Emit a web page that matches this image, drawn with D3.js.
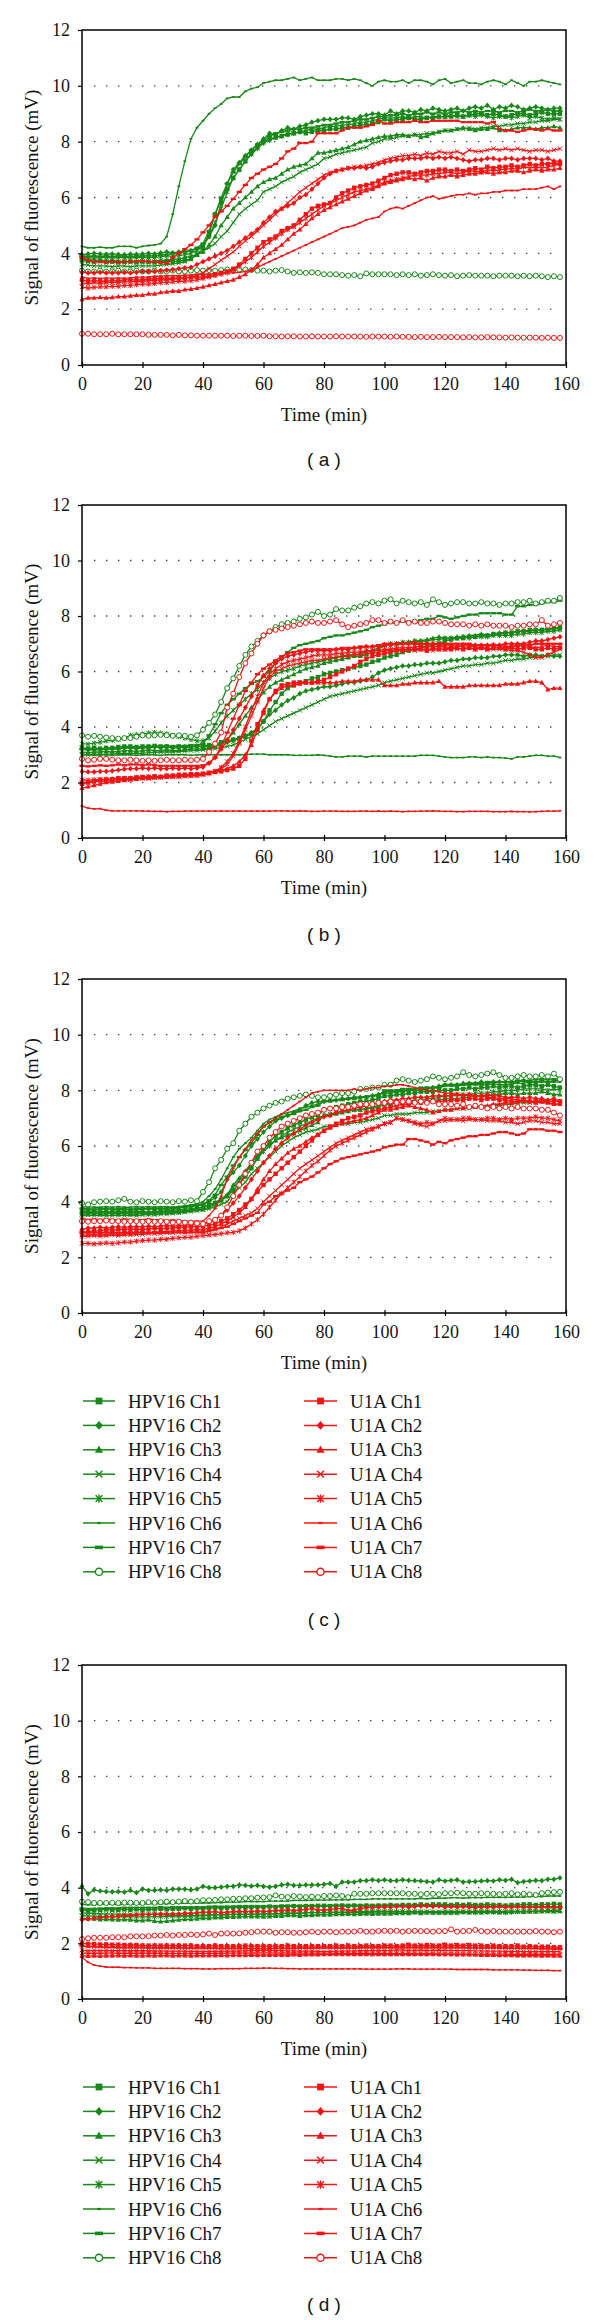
<!DOCTYPE html>
<html><head><meta charset="utf-8">
<script src="https://cdn.jsdelivr.net/npm/d3@7"></script>
<style>body{margin:0;background:#fff} text{font-family:"Liberation Serif","Times New Roman",serif}</style>
</head><body><svg id="chart" width="600" height="2320"></svg>
<script>
// ---------------- DATA ----------------
const timeMin = [0,2,4,6,8,10,12,14,16,18,20,22,24,26,28,30,32,34,36,38,40,42,44,46,48,50,52,54,56,58,60,62,64,66,68,70,72,74,76,78,80,82,84,86,88,90,92,94,96,98,100,102,104,106,108,110,112,114,116,118,120,122,124,126,128,130,132,134,136,138,140,142,144,146,148,150,152,154,156,158];
const xTickValues = [0,20,40,60,80,100,120,140,160];
const yTickValues = [0,2,4,6,8,10,12];
const gridValues = [2,4,6,8,10];
const groupNames = ["HPV16","U1A"];
const channelNames = ["Ch1","Ch2","Ch3","Ch4","Ch5","Ch6","Ch7","Ch8"];
const panelLabels = ["( a )","( b )","( c )","( d )"];

// ---- panel (a) ----
const a_hpv16_ch1 = [3.75,3.72,3.7,3.72,3.7,3.7,3.68,3.7,3.7,3.68, 3.7,3.7,3.68,3.7,3.72,3.7,3.72,3.75,3.8,3.95, 4.2,4.7,5.4,5.9,6.3,6.7,7.0,7.3,7.6,7.8, 8.0,8.1,8.15,8.2,8.25,8.3,8.35,8.3,8.35,8.4, 8.4,8.45,8.45,8.5,8.5,8.55,8.6,8.6,8.65,8.7, 8.8,8.75,8.8,8.8,8.85,8.8,8.8,8.85,8.85,8.9, 8.9,8.9,8.95,8.9,8.95,9.0,9.0,8.95,9.0,8.95, 8.9,8.95,9.0,9.0,8.95,9.0,9.05,9.0,9.0,9.0];
const a_hpv16_ch2 = [3.95,3.98,4.0,3.98,3.97,3.98,3.96,3.95,3.97,3.96, 3.98,4.0,3.98,4.02,4.05,4.02,4.05,4.05,4.1,4.15, 4.3,4.6,5.0,5.8,6.5,7.0,7.25,7.5,7.7,7.9, 8.1,8.3,8.25,8.4,8.5,8.45,8.55,8.6,8.7,8.75, 8.8,8.8,8.8,8.85,8.85,8.8,8.9,8.95,9.0,9.0, 8.95,9.1,9.0,9.1,9.1,9.05,9.15,9.1,9.2,9.15, 9.1,9.15,9.2,9.1,9.2,9.25,9.2,9.3,9.15,9.25, 9.2,9.3,9.25,9.15,9.2,9.25,9.2,9.15,9.2,9.2];
const a_hpv16_ch3 = [3.8,3.78,3.75,3.75,3.72,3.75,3.72,3.7,3.72,3.7, 3.72,3.7,3.72,3.75,3.75,3.78,3.8,3.85,3.9,3.95, 4.05,4.3,4.6,5.0,5.3,5.6,5.8,6.0,6.2,6.4, 6.55,6.65,6.7,6.85,7.0,7.1,7.15,7.2,7.4,7.6, 7.6,7.65,7.7,7.75,7.8,7.9,8.0,8.05,8.1,8.15, 8.2,8.2,8.25,8.25,8.2,8.25,8.15,8.2,8.3,8.35, 8.4,8.4,8.45,8.5,8.45,8.4,8.45,8.45,8.5,8.4, 8.4,8.45,8.5,8.5,8.5,8.45,8.5,8.5,8.55,8.5];
const a_hpv16_ch4 = [3.6,3.58,3.55,3.55,3.55,3.52,3.55,3.55,3.52,3.55, 3.55,3.55,3.55,3.58,3.6,3.62,3.65,3.7,3.8,3.95, 4.1,4.2,4.35,4.6,4.8,5.1,5.4,5.6,5.75,5.9, 6.2,6.3,6.4,6.55,6.65,6.75,6.9,7.0,7.1,7.2, 7.4,7.45,7.55,7.6,7.65,7.7,7.75,7.8,7.95,8.0, 8.1,8.1,8.15,8.2,8.2,8.25,8.25,8.3,8.3,8.35, 8.4,8.4,8.45,8.45,8.5,8.45,8.5,8.5,8.55,8.55, 8.6,8.6,8.65,8.65,8.7,8.7,8.75,8.75,8.8,8.8];
const a_hpv16_ch5 = [3.85,3.85,3.82,3.85,3.85,3.83,3.85,3.85,3.83,3.85, 3.85,3.85,3.85,3.88,3.9,3.9,3.92,3.95,4.0,4.1, 4.25,4.6,5.1,5.6,6.2,6.7,7.0,7.3,7.55,7.75, 7.95,8.05,8.15,8.2,8.3,8.3,8.35,8.4,8.45,8.45, 8.5,8.55,8.55,8.6,8.6,8.65,8.7,8.7,8.75,8.8, 8.85,8.85,8.85,8.9,8.85,8.9,8.9,8.85,8.9,8.9, 8.9,8.95,8.9,8.9,8.95,8.9,8.95,8.9,8.85,8.9, 8.9,8.85,8.9,8.95,8.85,8.9,8.85,8.8,8.85,8.8];
const a_hpv16_ch6 = [4.25,4.2,4.2,4.22,4.2,4.2,4.25,4.25,4.25,4.2, 4.25,4.28,4.3,4.35,4.6,5.4,6.4,7.3,8.1,8.5, 8.75,9.0,9.2,9.35,9.55,9.6,9.6,9.8,9.9,9.95, 10.1,10.15,10.2,10.2,10.25,10.3,10.2,10.25,10.3,10.2, 10.2,10.2,10.25,10.25,10.2,10.25,10.2,10.1,10.0,10.15, 10.2,10.15,10.15,10.2,10.1,10.2,10.2,10.15,10.05,10.2, 10.25,10.1,10.15,10.2,10.1,10.1,10.05,10.15,10.2,10.15, 10.05,10.2,10.1,10.0,10.15,10.15,10.2,10.15,10.1,10.05];
const a_hpv16_ch7 = [3.9,3.88,3.9,3.88,3.9,3.88,3.9,3.9,3.88,3.9, 3.9,3.92,3.9,3.95,3.95,4.0,4.0,4.05,4.1,4.2, 4.35,4.8,5.4,6.0,6.5,6.9,7.2,7.45,7.7,7.9, 8.05,8.2,8.3,8.35,8.4,8.45,8.45,8.5,8.5,8.55, 8.6,8.6,8.65,8.7,8.7,8.75,8.8,8.8,8.85,8.9, 8.9,8.95,8.95,9.0,8.95,9.0,9.0,9.05,9.0,9.05, 9.0,9.05,9.05,9.1,9.05,9.1,9.05,9.1,9.1,9.05, 9.1,9.1,9.05,9.1,9.15,9.1,9.1,9.15,9.1,9.1];
const a_hpv16_ch8 = [3.38,3.35,3.35,3.38,3.35,3.35,3.38,3.35,3.35,3.38, 3.35,3.35,3.38,3.35,3.35,3.38,3.35,3.35,3.38,3.4, 3.38,3.4,3.38,3.4,3.42,3.4,3.4,3.42,3.4,3.38, 3.38,3.35,3.38,3.4,3.35,3.3,3.32,3.3,3.32,3.3, 3.25,3.25,3.25,3.22,3.2,3.22,3.18,3.28,3.25,3.25, 3.25,3.25,3.22,3.25,3.22,3.25,3.2,3.22,3.25,3.22, 3.2,3.22,3.18,3.2,3.22,3.2,3.2,3.2,3.18,3.2, 3.2,3.2,3.18,3.2,3.18,3.2,3.18,3.15,3.18,3.15];
const a_u1a_ch1 = [3.05,3.0,3.02,3.0,3.0,3.02,3.0,3.05,3.05,3.05, 3.05,3.08,3.08,3.1,3.1,3.1,3.12,3.12,3.15,3.15, 3.15,3.2,3.25,3.3,3.35,3.45,3.6,3.8,4.0,4.2, 4.4,4.5,4.6,4.8,4.9,5.0,5.2,5.4,5.6,5.7, 5.75,5.8,6.0,6.15,6.25,6.35,6.4,6.45,6.5,6.6, 6.7,6.8,6.85,6.9,6.9,6.85,6.9,6.95,6.95,7.0, 7.0,6.95,7.0,6.95,7.0,7.05,7.0,7.1,7.05,7.1, 7.1,7.15,7.1,7.15,7.2,7.15,7.2,7.2,7.25,7.2];
const a_u1a_ch2 = [3.32,3.3,3.3,3.32,3.3,3.3,3.3,3.32,3.3,3.32, 3.35,3.35,3.35,3.38,3.4,3.42,3.45,3.48,3.5,3.6, 3.7,3.8,3.9,4.0,4.1,4.25,4.4,4.55,4.7,4.85, 5.1,5.3,5.5,5.6,5.7,5.8,6.0,6.1,6.3,6.5, 6.7,6.85,6.95,7.0,7.05,7.05,7.1,7.05,7.1,7.2, 7.25,7.3,7.35,7.35,7.4,7.4,7.4,7.45,7.4,7.45, 7.4,7.45,7.4,7.35,7.3,7.35,7.35,7.4,7.4,7.35, 7.4,7.4,7.35,7.4,7.4,7.4,7.35,7.4,7.3,7.3];
const a_u1a_ch3 = [2.35,2.4,2.4,2.42,2.4,2.42,2.45,2.45,2.48,2.5, 2.5,2.55,2.55,2.6,2.62,2.65,2.65,2.7,2.72,2.75, 2.8,2.85,2.9,2.95,3.0,3.05,3.15,3.25,3.4,3.6, 3.85,4.0,4.15,4.3,4.5,4.7,4.85,5.05,5.25,5.4, 5.55,5.65,5.75,5.85,5.95,6.05,6.15,6.25,6.3,6.4, 6.5,6.55,6.6,6.65,6.7,6.65,6.7,6.6,6.7,6.75, 6.75,6.8,6.75,6.8,6.85,6.85,6.9,6.9,6.85,6.9, 6.9,6.95,6.95,6.9,6.95,7.0,6.95,7.0,7.0,7.05];
const a_u1a_ch4 = [2.95,2.9,2.95,2.92,2.95,2.95,2.95,2.98,2.98,3.0, 3.0,3.02,3.02,3.05,3.05,3.08,3.1,3.12,3.15,3.2, 3.3,3.45,3.6,3.75,3.9,4.05,4.25,4.45,4.6,4.8, 5.0,5.2,5.4,5.6,5.8,6.0,6.2,6.35,6.5,6.65, 6.8,6.9,6.95,7.0,7.05,7.1,7.1,7.15,7.2,7.25, 7.35,7.4,7.45,7.5,7.5,7.55,7.5,7.6,7.55,7.65, 7.6,7.6,7.65,7.55,7.7,7.65,7.65,7.7,7.75,7.7, 7.75,7.7,7.75,7.7,7.65,7.7,7.7,7.65,7.7,7.75];
const a_u1a_ch5 = [2.8,2.75,2.78,2.8,2.8,2.82,2.82,2.85,2.85,2.88, 2.9,2.9,2.92,2.95,2.95,2.98,3.0,3.0,3.02,3.05, 3.1,3.15,3.2,3.25,3.3,3.4,3.55,3.7,3.85,4.05, 4.25,4.4,4.55,4.7,4.85,4.95,5.1,5.25,5.4,5.55, 5.7,5.8,5.9,6.0,6.1,6.2,6.25,6.3,6.35,6.45, 6.55,6.6,6.65,6.7,6.75,6.8,6.8,6.8,6.85,6.85, 6.9,6.9,6.85,6.9,6.95,6.95,6.9,7.0,6.95,7.0, 7.0,7.05,7.0,7.1,7.05,7.1,7.05,7.1,7.15,7.2];
const a_u1a_ch6 = [3.15,3.1,3.12,3.1,3.12,3.1,3.12,3.1,3.12,3.15, 3.15,3.15,3.18,3.18,3.2,3.2,3.2,3.22,3.22,3.25, 3.25,3.25,3.28,3.3,3.3,3.3,3.32,3.35,3.4,3.5, 3.6,3.7,3.8,3.9,4.0,4.1,4.2,4.3,4.4,4.5, 4.6,4.7,4.8,4.9,4.95,5.0,5.1,5.2,5.25,5.3, 5.5,5.6,5.65,5.6,5.7,5.8,5.9,6.0,6.05,5.95, 6.0,6.05,6.1,6.1,6.15,6.1,6.15,6.15,6.2,6.2, 6.25,6.25,6.25,6.3,6.3,6.3,6.35,6.4,6.3,6.4];
const a_u1a_ch7 = [3.85,3.75,3.7,3.7,3.68,3.7,3.68,3.7,3.7,3.72, 3.72,3.7,3.7,3.68,3.65,3.85,4.0,4.15,4.3,4.5, 4.75,5.0,5.3,5.5,5.7,5.95,6.2,6.45,6.7,6.85, 7.0,7.1,7.2,7.4,7.65,7.75,7.95,7.95,8.0,8.3, 8.3,8.3,8.3,8.4,8.5,8.5,8.5,8.55,8.6,8.75, 8.65,8.65,8.7,8.7,8.7,8.75,8.7,8.7,8.75,8.75, 8.75,8.75,8.75,8.7,8.7,8.7,8.7,8.65,8.7,8.45, 8.4,8.4,8.35,8.4,8.45,8.45,8.4,8.45,8.4,8.4];
const a_u1a_ch8 = [1.12,1.12,1.1,1.1,1.1,1.12,1.1,1.1,1.1,1.1, 1.1,1.08,1.08,1.08,1.08,1.06,1.08,1.06,1.06,1.05, 1.05,1.05,1.05,1.05,1.05,1.04,1.05,1.05,1.04,1.04, 1.05,1.03,1.03,1.02,1.03,1.03,1.02,1.02,1.03,1.02, 1.02,1.02,1.03,1.02,1.02,1.02,1.02,1.01,1.02,1.02, 1.02,1.01,1.02,1.01,1.01,1.0,1.01,1.0,1.0,1.01, 1.0,1.0,1.0,0.99,1.0,0.99,0.99,1.0,0.99,0.99, 0.98,0.99,0.98,0.98,0.98,0.98,0.97,0.98,0.97,0.97];

// ---- panel (b) ----
const b_hpv16_ch1 = [3.25,3.22,3.25,3.22,3.25,3.25,3.28,3.3,3.3,3.28, 3.3,3.3,3.32,3.3,3.3,3.28,3.3,3.28,3.3,3.3, 3.32,3.35,3.4,3.45,3.5,3.55,3.6,3.65,3.75,3.9, 4.2,4.6,4.9,5.2,5.4,5.5,5.6,5.65,5.75,5.8, 5.9,5.95,6.0,6.05,6.1,6.15,6.2,6.25,6.35,6.4, 6.5,6.55,6.6,6.7,6.75,6.8,6.85,6.9,6.95,7.0, 7.1,7.15,7.2,7.2,7.25,7.25,7.3,7.3,7.35,7.35, 7.4,7.4,7.45,7.45,7.5,7.5,7.5,7.55,7.55,7.6];
const b_hpv16_ch2 = [3.2,3.18,3.2,3.2,3.22,3.2,3.22,3.25,3.25,3.22, 3.25,3.25,3.28,3.25,3.28,3.25,3.25,3.28,3.28,3.3, 3.3,3.32,3.35,3.4,3.45,3.5,3.6,3.7,3.8,3.95, 4.2,4.45,4.6,4.8,4.95,5.05,5.2,5.3,5.35,5.4, 5.45,5.45,5.5,5.55,5.6,5.6,5.65,5.7,5.8,5.95, 6.05,6.1,6.15,6.2,6.2,6.25,6.25,6.3,6.3,6.3, 6.35,6.4,6.4,6.45,6.45,6.5,6.5,6.5,6.55,6.55, 6.6,6.6,6.6,6.55,6.6,6.6,6.55,6.6,6.55,6.55];
const b_hpv16_ch3 = [3.1,3.08,3.1,3.1,3.12,3.1,3.12,3.15,3.15,3.12, 3.15,3.18,3.15,3.15,3.18,3.15,3.15,3.18,3.2,3.2, 3.22,3.25,3.3,3.4,3.55,3.8,4.1,4.4,4.7,4.95, 5.25,5.45,5.6,5.7,5.8,5.9,6.0,6.1,6.15,6.2, 6.3,6.35,6.4,6.45,6.5,6.55,6.55,6.6,6.7,6.8, 6.95,7.0,7.0,7.05,7.05,7.1,7.1,7.15,7.2,7.25, 7.2,7.2,7.25,7.25,7.3,7.3,7.35,7.3,7.35,7.4, 7.4,7.4,7.45,7.45,7.45,7.5,7.5,7.5,7.55,7.55];
const b_hpv16_ch4 = [3.0,3.0,3.02,3.0,3.02,3.02,3.05,3.05,3.05,3.05, 3.05,3.08,3.08,3.1,3.1,3.1,3.12,3.12,3.15,3.15, 3.18,3.2,3.22,3.25,3.3,3.35,3.45,3.55,3.65,3.75, 3.9,4.05,4.2,4.3,4.4,4.5,4.6,4.7,4.8,4.9, 5.0,5.1,5.15,5.2,5.25,5.3,5.35,5.4,5.45,5.5, 5.6,5.65,5.7,5.75,5.8,5.85,5.9,5.95,5.95,6.0, 6.05,6.1,6.15,6.2,6.2,6.25,6.25,6.3,6.3,6.35, 6.4,6.4,6.45,6.45,6.5,6.5,6.55,6.55,6.6,6.6];
const b_hpv16_ch5 = [3.4,3.38,3.42,3.45,3.5,3.52,3.55,3.6,3.7,3.72, 3.75,3.78,3.8,3.78,3.75,3.7,3.65,3.6,3.55,3.5, 3.5,3.6,3.85,4.15,4.4,4.6,4.8,5.0,5.2,5.35, 5.6,5.75,5.9,6.0,6.05,6.1,6.2,6.25,6.3,6.35, 6.4,6.45,6.5,6.55,6.6,6.6,6.65,6.7,6.75,6.85, 6.95,7.0,7.0,7.05,7.05,7.1,7.1,7.1,7.15,7.15, 7.2,7.2,7.2,7.25,7.2,7.25,7.25,7.25,7.3,7.3, 7.3,7.3,7.35,7.35,7.4,7.4,7.4,7.45,7.45,7.5];
const b_hpv16_ch6 = [3.0,3.0,2.98,3.0,3.0,2.98,3.0,3.0,3.0,2.98, 3.0,3.0,3.0,2.98,3.0,3.0,3.0,3.0,2.98,3.0, 3.0,3.0,3.0,3.0,3.0,3.0,3.0,3.0,3.02,3.02, 3.02,3.0,3.0,3.0,3.0,2.98,2.98,2.98,2.98,3.0, 2.98,2.95,2.92,2.92,2.95,2.95,2.95,2.92,2.95,2.95, 2.95,2.95,2.95,2.95,2.95,2.95,2.98,2.98,2.98,2.95, 2.92,2.9,2.9,2.9,2.92,2.92,2.9,2.92,2.9,2.9, 2.88,2.85,2.92,2.92,2.95,2.98,2.98,2.95,2.95,2.9];
const b_hpv16_ch7 = [3.2,3.2,3.18,3.2,3.2,3.22,3.22,3.25,3.25,3.25, 3.28,3.3,3.3,3.3,3.32,3.3,3.32,3.32,3.35,3.35, 3.4,3.7,4.1,4.5,4.8,5.0,5.2,5.4,5.55,5.65, 5.8,6.0,6.3,6.5,6.7,6.85,6.95,7.0,7.05,7.1, 7.2,7.25,7.3,7.3,7.35,7.4,7.45,7.5,7.6,7.65, 7.7,7.75,7.75,7.8,7.8,7.8,7.85,7.9,7.9,8.0, 7.95,7.9,7.95,8.0,8.05,8.05,8.1,8.1,8.1,8.1, 8.05,8.05,8.35,8.35,8.4,8.4,8.45,8.5,8.5,8.55];
const b_hpv16_ch8 = [3.7,3.65,3.68,3.65,3.62,3.6,3.58,3.6,3.6,3.65, 3.7,3.68,3.7,3.72,3.7,3.68,3.7,3.68,3.65,3.7, 3.9,4.15,4.45,4.9,5.4,5.75,6.2,6.6,6.9,7.1, 7.3,7.45,7.6,7.7,7.75,7.8,7.9,7.95,8.05,8.15, 8.0,8.05,8.25,8.2,8.2,8.3,8.35,8.45,8.5,8.45, 8.55,8.6,8.45,8.55,8.5,8.45,8.5,8.4,8.6,8.5, 8.4,8.45,8.5,8.5,8.45,8.45,8.5,8.45,8.45,8.4, 8.45,8.45,8.5,8.5,8.55,8.45,8.5,8.55,8.55,8.65];
const b_u1a_ch1 = [1.95,2.0,2.05,2.1,2.1,2.12,2.15,2.15,2.15,2.18, 2.2,2.2,2.22,2.2,2.25,2.25,2.28,2.28,2.3,2.3, 2.32,2.35,2.38,2.4,2.45,2.5,2.6,2.85,3.5,4.1, 4.5,5.0,5.3,5.5,5.55,5.6,5.6,5.6,5.6,5.65, 5.7,5.8,5.9,6.0,6.1,6.2,6.35,6.45,6.55,6.6, 6.65,6.7,6.75,6.75,6.8,6.8,6.8,6.75,6.85,6.8, 6.8,6.8,6.85,6.8,6.85,6.8,6.85,6.8,6.85,6.85, 6.8,6.85,6.8,6.85,6.85,6.8,6.8,6.85,6.8,6.85];
const b_u1a_ch2 = [2.4,2.38,2.38,2.4,2.4,2.42,2.45,2.48,2.5,2.5, 2.52,2.5,2.52,2.5,2.5,2.52,2.5,2.52,2.5,2.52, 2.55,2.7,2.9,3.2,3.5,3.9,4.3,4.7,5.1,5.5, 5.85,6.1,6.3,6.45,6.55,6.6,6.65,6.7,6.75,6.75, 6.75,6.75,6.8,6.8,6.8,6.85,6.85,6.9,6.9,6.9, 6.95,6.95,7.0,7.0,7.0,7.0,6.95,7.0,7.0,6.95, 6.95,6.95,6.9,6.95,6.95,6.95,6.95,6.95,6.95,6.95, 7.0,7.0,7.0,7.0,7.05,7.1,7.1,7.15,7.2,7.25];
const b_u1a_ch3 = [1.8,1.85,1.9,1.95,2.0,2.02,2.05,2.08,2.1,2.12, 2.15,2.15,2.18,2.2,2.2,2.22,2.22,2.25,2.25,2.28, 2.3,2.35,2.4,2.45,2.5,2.6,2.75,3.0,3.35,3.9, 4.6,5.0,5.25,5.4,5.5,5.5,5.55,5.6,5.6,5.6, 5.6,5.6,5.6,5.65,5.65,5.65,5.7,5.7,5.7,5.7, 5.5,5.5,5.5,5.55,5.55,5.6,5.6,5.6,5.6,5.65, 5.45,5.45,5.45,5.45,5.5,5.5,5.5,5.5,5.5,5.5, 5.55,5.55,5.55,5.6,5.65,5.65,5.6,5.35,5.4,5.4];
const b_u1a_ch4 = [2.0,2.0,2.02,2.05,2.05,2.08,2.1,2.12,2.12,2.15, 2.15,2.15,2.18,2.18,2.2,2.2,2.22,2.22,2.25,2.25, 2.3,2.35,2.4,2.5,2.65,2.95,3.4,3.9,4.4,4.9, 5.4,5.8,6.0,6.1,6.2,6.25,6.3,6.35,6.4,6.4, 6.45,6.5,6.5,6.55,6.55,6.6,6.6,6.65,6.65,6.7, 6.75,6.75,6.8,6.8,6.8,6.75,6.8,6.8,6.75,6.8, 6.8,6.85,6.8,6.85,6.85,6.8,6.85,6.8,6.8,6.8, 6.8,6.75,6.75,6.7,6.6,6.5,6.5,6.6,6.7,6.8];
const b_u1a_ch5 = [2.1,2.08,2.1,2.1,2.12,2.12,2.15,2.15,2.15,2.18, 2.18,2.2,2.2,2.2,2.22,2.22,2.22,2.25,2.25,2.25, 2.28,2.32,2.4,2.55,2.75,3.05,3.5,4.0,4.6,5.1, 5.6,5.9,6.1,6.25,6.35,6.4,6.45,6.5,6.55,6.6, 6.6,6.6,6.65,6.65,6.7,6.7,6.7,6.75,6.75,6.75, 6.8,6.8,6.85,6.85,6.85,6.9,6.9,6.9,6.9,6.9, 6.9,6.85,6.9,6.95,6.9,6.9,6.85,6.9,6.95,6.9, 6.85,6.9,6.9,6.95,6.9,6.85,6.9,6.95,6.9,6.9];
const b_u1a_ch6 = [1.15,1.08,1.05,1.06,1.0,0.98,0.98,0.98,0.98,0.98, 0.97,0.97,0.96,0.96,0.95,0.96,0.96,0.97,0.97,0.97, 0.97,0.97,0.97,0.97,0.97,0.97,0.97,0.97,0.97,0.97, 0.97,0.97,0.98,0.98,0.97,0.97,0.98,0.97,0.96,0.96, 0.97,0.97,0.97,0.96,0.96,0.96,0.97,0.97,0.96,0.97, 0.96,0.97,0.96,0.95,0.96,0.96,0.97,0.97,0.98,0.97, 0.96,0.96,0.95,0.95,0.96,0.96,0.96,0.96,0.95,0.95, 0.95,0.96,0.95,0.95,0.94,0.95,0.96,0.97,0.97,0.98];
const b_u1a_ch7 = [2.6,2.58,2.6,2.62,2.6,2.62,2.65,2.62,2.65,2.65, 2.62,2.65,2.62,2.6,2.6,2.6,2.6,2.6,2.6,2.6, 2.62,2.7,2.9,3.3,3.8,4.3,4.8,5.3,5.6,5.9, 6.1,6.25,6.4,6.55,6.65,6.7,6.75,6.8,6.8,6.8, 6.8,6.8,6.8,6.85,6.85,6.85,6.9,6.9,6.9,6.95, 7.0,7.0,7.0,7.0,7.0,7.05,7.0,7.0,7.0,7.0, 7.0,7.0,7.0,7.0,7.0,6.95,6.95,6.95,6.95,6.95, 6.9,6.9,6.95,6.95,6.95,7.0,7.0,7.0,7.0,7.0];
const b_u1a_ch8 = [2.85,2.8,2.82,2.85,2.85,2.82,2.8,2.8,2.82,2.8, 2.78,2.8,2.78,2.8,2.82,2.8,2.8,2.82,2.8,2.82, 2.85,3.1,3.4,3.8,4.7,5.2,5.8,6.3,6.65,7.0, 7.3,7.45,7.5,7.55,7.6,7.65,7.7,7.75,7.8,7.75, 7.75,7.8,7.85,7.7,7.6,7.65,7.7,7.75,7.85,7.85, 7.75,7.8,7.75,7.85,7.75,7.8,7.75,7.75,7.8,7.8, 7.75,7.7,7.7,7.7,7.65,7.7,7.65,7.7,7.65,7.65, 7.65,7.6,7.65,7.65,7.7,7.7,7.85,7.65,7.7,7.75];

// ---- panel (c) ----
const c_hpv16_ch1 = [3.6,3.62,3.6,3.6,3.62,3.6,3.6,3.62,3.6,3.6, 3.62,3.6,3.62,3.62,3.65,3.62,3.65,3.68,3.7,3.75, 3.8,3.88,3.95,4.05,4.2,4.4,4.65,4.9,5.2,5.55, 5.9,6.15,6.35,6.5,6.65,6.75,6.85,6.95,7.05,7.1, 7.3,7.35,7.4,7.45,7.5,7.55,7.6,7.6,7.65,7.7, 7.8,7.8,7.85,7.85,7.9,7.9,7.95,7.95,7.95,8.0, 8.0,8.0,8.05,8.05,8.1,8.05,8.1,8.1,8.15,8.1, 8.15,8.15,8.1,8.15,8.2,8.2,8.15,8.2,8.15,8.1];
const c_hpv16_ch2 = [3.7,3.72,3.7,3.72,3.75,3.72,3.7,3.72,3.7,3.72, 3.72,3.75,3.72,3.75,3.72,3.75,3.78,3.8,3.82,3.85, 3.9,4.0,4.15,4.35,4.8,5.05,5.3,5.65,6.0,6.25, 6.5,6.7,6.9,7.0,7.1,7.2,7.3,7.45,7.55,7.6, 7.6,7.65,7.65,7.7,7.7,7.75,7.75,7.75,7.8,7.85, 7.9,7.9,7.95,7.95,8.0,8.0,8.0,8.05,8.1,8.15, 8.2,8.2,8.2,8.25,8.25,8.25,8.3,8.25,8.3,8.3, 8.3,8.3,8.3,8.35,8.3,8.3,8.35,8.3,8.35,8.35];
const c_hpv16_ch3 = [3.65,3.65,3.62,3.65,3.65,3.62,3.65,3.62,3.65,3.65, 3.65,3.62,3.65,3.65,3.68,3.7,3.7,3.72,3.75,3.78, 3.8,3.88,3.98,4.1,4.25,4.6,4.85,5.1,5.4,5.65, 5.9,6.05,6.2,6.3,6.4,6.45,6.55,6.65,6.75,6.85, 7.1,7.1,7.15,7.2,7.25,7.3,7.3,7.35,7.4,7.45, 7.5,7.5,7.55,7.55,7.6,7.55,7.6,7.6,7.65,7.65, 7.7,7.7,7.7,7.75,7.75,7.8,7.8,7.8,7.85,7.85, 7.9,7.9,7.85,7.9,7.9,7.9,7.95,7.9,7.85,7.85];
const c_hpv16_ch4 = [3.5,3.52,3.5,3.52,3.5,3.5,3.52,3.5,3.52,3.5, 3.52,3.55,3.52,3.55,3.55,3.58,3.6,3.62,3.65,3.68, 3.7,3.75,3.82,3.9,4.0,4.3,4.5,4.7,5.0,5.2, 5.4,5.6,5.8,6.0,6.15,6.3,6.4,6.5,6.55,6.6, 6.7,6.7,6.75,6.8,6.8,6.85,6.85,6.9,6.95,7.0, 7.1,7.1,7.15,7.15,7.15,7.2,7.2,7.2,7.25,7.25, 7.3,7.3,7.35,7.35,7.35,7.4,7.4,7.4,7.45,7.45, 7.5,7.5,7.55,7.55,7.55,7.6,7.6,7.6,7.6,7.6];
const c_hpv16_ch5 = [3.55,3.55,3.58,3.55,3.55,3.58,3.55,3.58,3.55,3.55, 3.58,3.55,3.58,3.6,3.6,3.62,3.62,3.65,3.68,3.7, 3.72,3.8,3.9,4.05,4.2,4.5,4.75,5.05,5.3,5.55, 5.8,6.0,6.2,6.35,6.5,6.6,6.7,6.8,6.9,7.0, 7.1,7.15,7.2,7.25,7.25,7.3,7.3,7.35,7.35,7.4, 7.5,7.55,7.55,7.6,7.6,7.65,7.65,7.7,7.7,7.75, 7.8,7.8,7.85,7.85,7.85,7.9,7.9,7.9,7.95,7.95, 8.0,8.0,8.0,8.05,8.05,8.05,8.05,8.0,8.05,8.0];
const c_hpv16_ch6 = [3.8,3.82,3.8,3.8,3.82,3.8,3.82,3.8,3.8,3.82, 3.8,3.82,3.8,3.82,3.82,3.8,3.82,3.85,3.88,3.92, 4.0,4.2,4.45,4.8,5.2,5.6,5.9,6.1,6.3,6.55, 6.8,6.95,7.05,7.15,7.2,7.25,7.35,7.4,7.45,7.5, 7.6,7.6,7.65,7.7,7.7,7.75,7.75,7.8,7.8,7.85, 7.95,7.95,8.0,8.0,8.0,8.05,8.05,8.1,8.1,8.1, 8.15,8.15,8.15,8.2,8.2,8.2,8.2,8.2,8.25,8.2, 8.2,8.25,8.25,8.25,8.3,8.3,8.3,8.3,8.3,8.3];
const c_hpv16_ch7 = [3.75,3.75,3.72,3.75,3.75,3.72,3.75,3.75,3.72,3.75, 3.75,3.75,3.78,3.75,3.78,3.78,3.8,3.82,3.85,3.88, 3.9,4.05,4.25,4.6,4.9,5.3,5.6,5.85,6.1,6.4, 6.7,6.85,6.95,7.05,7.1,7.15,7.25,7.3,7.4,7.45, 7.6,7.6,7.65,7.65,7.7,7.7,7.75,7.75,7.8,7.8, 8.0,8.0,8.0,8.05,8.05,8.05,8.1,8.1,8.1,8.1, 8.2,8.2,8.2,8.2,8.25,8.25,8.25,8.3,8.3,8.3, 8.3,8.3,8.35,8.35,8.35,8.4,8.4,8.4,8.4,8.4];
const c_hpv16_ch8 = [3.95,3.9,3.98,4.0,4.02,4.0,4.05,4.1,4.0,3.98, 4.02,4.0,3.98,4.02,4.0,3.98,4.02,4.0,4.05,4.02, 4.35,4.7,5.2,5.5,5.9,6.1,6.55,6.8,7.05,7.2, 7.35,7.45,7.55,7.6,7.7,7.75,7.8,7.85,7.8,7.75, 7.75,7.8,7.85,7.9,7.9,7.95,8.05,8.05,8.1,8.1, 8.2,8.2,8.35,8.4,8.35,8.3,8.35,8.4,8.5,8.45, 8.4,8.45,8.5,8.65,8.55,8.5,8.55,8.6,8.65,8.55, 8.45,8.45,8.5,8.55,8.5,8.5,8.55,8.5,8.6,8.4];
const c_u1a_ch1 = [2.9,2.92,2.95,2.95,3.0,2.98,3.0,3.0,3.02,3.0, 3.0,3.02,3.05,3.02,3.05,3.05,3.08,3.08,3.1,3.1, 3.12,3.15,3.2,3.3,3.4,3.55,3.7,3.9,4.1,4.35, 4.6,4.8,5.0,5.2,5.4,5.6,5.8,6.0,6.2,6.4, 6.55,6.7,6.8,6.9,7.0,7.05,7.1,7.2,7.25,7.3, 7.35,7.4,7.45,7.5,7.5,7.55,7.55,7.6,7.6,7.6, 7.6,7.65,7.65,7.65,7.7,7.7,7.65,7.7,7.7,7.65, 7.65,7.6,7.6,7.65,7.6,7.6,7.65,7.6,7.6,7.6];
const c_u1a_ch2 = [3.0,3.05,3.05,3.08,3.05,3.08,3.1,3.08,3.1,3.1, 3.1,3.12,3.1,3.12,3.15,3.12,3.15,3.15,3.18,3.18, 3.2,3.25,3.35,3.5,3.7,3.95,4.2,4.5,4.8,5.1, 5.4,5.65,5.9,6.1,6.3,6.45,6.6,6.75,6.85,6.95, 7.05,7.1,7.2,7.25,7.3,7.35,7.4,7.45,7.5,7.55, 7.6,7.65,7.65,7.7,7.7,7.75,7.75,7.75,7.8,7.8, 7.8,7.8,7.85,7.8,7.85,7.8,7.8,7.85,7.8,7.8, 7.75,7.75,7.75,7.7,7.75,7.7,7.7,7.65,7.7,7.6];
const c_u1a_ch3 = [2.8,2.8,2.82,2.8,2.82,2.85,2.82,2.85,2.85,2.88, 2.88,2.9,2.9,2.92,2.92,2.95,2.95,2.98,2.98,3.0, 3.0,3.05,3.1,3.2,3.3,3.45,3.6,3.8,4.1,4.45, 4.8,5.1,5.35,5.55,5.75,5.9,6.0,6.15,6.3,6.4, 6.55,6.65,6.75,6.8,6.85,6.9,6.95,7.0,7.1,7.2, 7.3,7.3,7.35,7.4,7.45,7.4,7.35,7.3,7.2,7.25, 7.3,7.3,7.35,7.35,7.4,7.4,7.45,7.45,7.5,7.5, 7.55,7.55,7.6,7.6,7.6,7.55,7.6,7.55,7.5,7.5];
const c_u1a_ch4 = [2.75,2.75,2.78,2.75,2.78,2.8,2.78,2.8,2.8,2.82, 2.82,2.85,2.85,2.85,2.88,2.88,2.9,2.9,2.9,2.9, 2.9,2.95,3.0,3.1,3.2,3.3,3.4,3.5,3.6,3.75, 4.0,4.2,4.4,4.6,4.8,5.0,5.2,5.35,5.5,5.65, 5.8,5.95,6.1,6.2,6.3,6.4,6.5,6.6,6.65,6.7, 6.8,6.85,7.0,6.95,6.9,6.8,6.75,6.7,6.8,6.9, 6.9,6.95,6.95,6.9,6.95,6.95,6.95,6.9,6.9,6.9, 6.85,6.85,6.8,6.85,6.9,6.9,6.85,6.85,6.8,6.8];
const c_u1a_ch5 = [2.5,2.5,2.48,2.5,2.52,2.5,2.52,2.55,2.55,2.58, 2.6,2.62,2.62,2.65,2.65,2.68,2.7,2.72,2.72,2.75, 2.78,2.8,2.82,2.85,2.88,2.9,2.95,3.05,3.2,3.35, 3.55,3.8,4.05,4.3,4.5,4.7,4.9,5.1,5.3,5.45, 5.65,5.85,6.0,6.1,6.2,6.3,6.4,6.5,6.6,6.7, 6.8,6.85,7.0,6.95,6.9,6.85,6.8,6.85,6.8,6.9, 7.0,6.95,6.95,7.0,7.0,6.95,6.95,7.0,7.0,6.95, 7.0,6.95,7.0,7.0,7.0,7.05,7.0,7.0,6.95,6.9];
const c_u1a_ch6 = [3.4,3.35,3.38,3.35,3.38,3.35,3.35,3.38,3.35,3.35, 3.35,3.38,3.35,3.35,3.32,3.35,3.32,3.3,3.3,3.3, 3.3,3.5,3.75,4.2,4.8,5.2,5.6,5.9,6.2,6.45, 6.7,6.85,7.0,7.15,7.3,7.45,7.6,7.75,7.9,7.95, 8.0,8.0,8.0,8.0,8.0,8.05,8.0,8.05,8.1,8.1, 8.15,8.15,8.2,8.2,8.15,8.1,8.05,8.0,8.0,7.95, 7.9,7.9,7.85,7.85,7.8,7.8,7.8,7.75,7.75,7.7, 7.7,7.7,7.65,7.65,7.6,7.6,7.55,7.55,7.5,7.5];
const c_u1a_ch7 = [2.9,2.88,2.9,2.88,2.9,2.9,2.88,2.9,2.9,2.9, 2.9,2.88,2.9,2.9,2.88,2.9,2.9,2.88,2.9,2.9, 2.9,2.95,3.0,3.05,3.1,3.2,3.3,3.4,3.5,3.6, 3.9,4.0,4.2,4.3,4.4,4.5,4.7,4.8,4.9,5.05, 5.2,5.35,5.45,5.55,5.6,5.65,5.7,5.75,5.8,5.85, 5.95,6.0,6.05,6.05,6.25,6.25,6.2,6.15,6.05,6.15, 6.1,6.2,6.25,6.3,6.35,6.35,6.4,6.4,6.45,6.5, 6.5,6.45,6.4,6.45,6.6,6.6,6.6,6.55,6.55,6.5];
const c_u1a_ch8 = [3.3,3.28,3.3,3.3,3.32,3.3,3.3,3.28,3.3,3.3, 3.28,3.3,3.28,3.3,3.28,3.25,3.28,3.25,3.25,3.22, 3.2,3.3,3.35,3.5,3.8,4.2,4.6,5.0,5.4,5.8, 6.0,6.3,6.5,6.7,6.8,6.9,7.0,7.1,7.15,7.2, 7.3,7.35,7.35,7.4,7.4,7.45,7.5,7.5,7.5,7.55, 7.55,7.6,7.55,7.6,7.6,7.55,7.6,7.55,7.6,7.5, 7.5,7.5,7.45,7.5,7.4,7.45,7.4,7.35,7.4,7.35, 7.4,7.35,7.4,7.35,7.35,7.35,7.3,7.3,7.2,7.1];

// ---- panel (d) ----
const d_hpv16_ch1 = [3.2,3.18,3.2,3.2,3.22,3.2,3.2,3.22,3.2,3.22, 3.2,3.22,3.22,3.24,3.22,3.24,3.24,3.26,3.24,3.26, 3.25,3.26,3.28,3.26,3.28,3.28,3.3,3.28,3.3,3.3, 3.3,3.32,3.3,3.32,3.32,3.34,3.32,3.34,3.34,3.35, 3.35,3.34,3.35,3.36,3.35,3.36,3.35,3.36,3.35,3.36, 3.36,3.38,3.36,3.38,3.38,3.38,3.4,3.38,3.4,3.4, 3.4,3.38,3.4,3.38,3.4,3.38,3.38,3.4,3.38,3.38, 3.36,3.38,3.38,3.4,3.4,3.38,3.4,3.4,3.42,3.4];
const d_hpv16_ch2 = [4.05,3.78,3.92,3.88,3.86,3.85,3.86,3.84,3.9,3.82, 3.95,3.9,3.9,3.92,3.9,3.95,3.95,3.95,3.92,3.95, 4.05,4.0,4.0,4.02,4.05,4.05,4.1,4.08,4.06,4.08, 4.05,4.02,4.05,4.1,4.12,4.08,4.08,4.1,4.1,4.1, 4.12,4.15,4.05,4.2,4.2,4.2,4.25,4.25,4.28,4.25, 4.28,4.25,4.25,4.28,4.26,4.25,4.24,4.22,4.2,4.28, 4.24,4.26,4.28,4.2,4.22,4.22,4.24,4.25,4.24,4.28, 4.26,4.3,4.18,4.22,4.24,4.26,4.25,4.3,4.3,4.35];
const d_hpv16_ch3 = [2.9,2.88,2.88,2.85,2.86,2.85,2.84,2.85,2.84,2.82, 2.82,2.84,2.8,2.78,2.8,2.82,2.84,2.86,2.86,2.88, 2.9,2.9,2.92,2.92,2.94,2.94,2.95,2.96,2.96,2.96, 2.95,2.96,2.98,2.98,3.0,3.0,2.98,3.0,3.0,3.02, 3.02,3.02,3.04,3.04,3.05,3.04,3.05,3.06,3.05,3.06, 3.06,3.06,3.08,3.08,3.08,3.1,3.08,3.1,3.1,3.1, 3.1,3.1,3.1,3.12,3.1,3.12,3.1,3.12,3.12,3.1, 3.12,3.12,3.14,3.12,3.14,3.14,3.15,3.15,3.14,3.15];
const d_hpv16_ch4 = [3.1,3.08,3.08,3.06,3.06,3.05,3.05,3.06,3.04,3.05, 3.05,3.04,3.04,3.02,3.02,3.0,3.0,3.0,3.0,3.0, 3.0,3.02,3.02,3.02,3.04,3.04,3.05,3.04,3.05,3.05, 3.06,3.06,3.06,3.08,3.08,3.08,3.08,3.1,3.1,3.1, 3.1,3.1,3.1,3.1,3.12,3.1,3.12,3.1,3.12,3.12, 3.12,3.12,3.12,3.14,3.12,3.14,3.14,3.14,3.14,3.14, 3.15,3.15,3.15,3.15,3.14,3.15,3.16,3.15,3.16,3.15, 3.15,3.16,3.15,3.16,3.16,3.15,3.16,3.16,3.15,3.16];
const d_hpv16_ch5 = [3.0,2.98,2.98,2.96,2.96,2.95,2.95,2.96,2.95,2.95, 2.95,2.95,2.96,2.96,2.96,2.98,2.98,2.98,2.98,3.0, 3.0,3.0,3.02,3.02,3.02,3.04,3.04,3.04,3.05,3.05, 3.05,3.06,3.06,3.06,3.08,3.08,3.08,3.1,3.1,3.1, 3.1,3.12,3.12,3.12,3.12,3.14,3.14,3.14,3.15,3.15, 3.15,3.15,3.14,3.15,3.14,3.14,3.12,3.12,3.1,3.1, 3.1,3.1,3.1,3.12,3.12,3.1,3.12,3.12,3.12,3.14, 3.1,3.12,3.14,3.14,3.15,3.16,3.16,3.18,3.18,3.2];
const d_hpv16_ch6 = [3.4,3.38,3.38,3.4,3.4,3.4,3.38,3.4,3.4,3.4, 3.4,3.42,3.42,3.42,3.42,3.44,3.44,3.44,3.44,3.45, 3.45,3.45,3.46,3.46,3.48,3.48,3.48,3.5,3.5,3.5, 3.5,3.52,3.52,3.52,3.52,3.54,3.54,3.54,3.55,3.55, 3.55,3.56,3.56,3.56,3.56,3.58,3.58,3.58,3.6,3.6, 3.6,3.6,3.6,3.6,3.6,3.6,3.62,3.6,3.62,3.62, 3.62,3.64,3.64,3.62,3.64,3.64,3.64,3.65,3.65,3.65, 3.65,3.66,3.66,3.66,3.68,3.68,3.68,3.7,3.7,3.7];
const d_hpv16_ch7 = [3.25,3.24,3.24,3.25,3.26,3.26,3.26,3.28,3.28,3.28, 3.28,3.28,3.28,3.3,3.28,3.3,3.3,3.3,3.3,3.3, 3.3,3.32,3.32,3.32,3.32,3.32,3.34,3.34,3.34,3.34, 3.34,3.34,3.34,3.35,3.35,3.35,3.35,3.35,3.35,3.35, 3.35,3.36,3.36,3.36,3.36,3.36,3.36,3.36,3.36,3.36, 3.36,3.36,3.36,3.35,3.35,3.35,3.35,3.35,3.35,3.35, 3.35,3.35,3.34,3.34,3.34,3.34,3.33,3.33,3.33,3.32, 3.32,3.32,3.32,3.32,3.31,3.31,3.31,3.3,3.3,3.3];
const d_hpv16_ch8 = [3.5,3.48,3.45,3.45,3.45,3.46,3.45,3.46,3.46,3.45, 3.45,3.48,3.46,3.48,3.5,3.48,3.5,3.52,3.5,3.52, 3.55,3.55,3.56,3.58,3.58,3.6,3.6,3.62,3.62,3.64, 3.65,3.66,3.72,3.68,3.66,3.7,3.68,3.66,3.68,3.66, 3.7,3.7,3.72,3.7,3.66,3.78,3.78,3.78,3.8,3.8, 3.8,3.8,3.8,3.8,3.78,3.78,3.76,3.78,3.78,3.76, 3.8,3.8,3.82,3.8,3.78,3.78,3.8,3.78,3.78,3.76, 3.78,3.8,3.76,3.78,3.76,3.74,3.8,3.82,3.84,3.85];
const d_u1a_ch1 = [2.0,1.98,1.98,1.96,1.96,1.95,1.95,1.94,1.94,1.94, 1.92,1.92,1.92,1.92,1.92,1.92,1.92,1.92,1.92,1.9, 1.9,1.9,1.92,1.9,1.9,1.9,1.9,1.92,1.9,1.9, 1.9,1.9,1.9,1.9,1.92,1.9,1.9,1.9,1.9,1.9, 1.9,1.9,1.92,1.9,1.92,1.9,1.9,1.92,1.9,1.9, 1.92,1.92,1.9,1.92,1.95,1.92,1.92,1.94,1.92,1.92, 1.95,1.92,1.94,1.92,1.94,1.92,1.92,1.9,1.92,1.9, 1.9,1.9,1.92,1.88,1.9,1.88,1.88,1.88,1.86,1.86];
const d_u1a_ch2 = [2.85,2.88,2.9,2.92,2.95,2.96,2.98,3.0,3.0,3.02, 3.04,3.04,3.05,3.06,3.05,3.06,3.06,3.08,3.08,3.1, 3.12,3.12,3.14,3.1,3.12,3.14,3.15,3.14,3.15,3.16, 3.15,3.16,3.18,3.18,3.2,3.18,3.2,3.22,3.25,3.2, 3.2,3.22,3.25,3.25,3.18,3.2,3.25,3.28,3.28,3.3, 3.3,3.3,3.32,3.32,3.3,3.32,3.34,3.34,3.32,3.34, 3.3,3.32,3.3,3.32,3.3,3.28,3.3,3.3,3.3,3.32, 3.3,3.3,3.32,3.3,3.3,3.3,3.3,3.32,3.3,3.3];
const d_u1a_ch3 = [1.55,1.54,1.55,1.54,1.55,1.55,1.56,1.55,1.56,1.55, 1.55,1.56,1.55,1.56,1.56,1.55,1.56,1.56,1.55,1.56, 1.56,1.56,1.56,1.57,1.56,1.57,1.57,1.57,1.58,1.57, 1.58,1.58,1.58,1.58,1.58,1.59,1.58,1.59,1.59,1.59, 1.6,1.6,1.6,1.6,1.6,1.6,1.6,1.6,1.6,1.6, 1.6,1.6,1.6,1.6,1.6,1.6,1.61,1.6,1.61,1.6, 1.6,1.6,1.59,1.6,1.59,1.59,1.58,1.58,1.58,1.57, 1.57,1.57,1.56,1.56,1.56,1.56,1.55,1.56,1.55,1.55];
const d_u1a_ch4 = [1.75,1.74,1.75,1.74,1.75,1.74,1.74,1.75,1.74,1.75, 1.74,1.74,1.73,1.73,1.72,1.72,1.72,1.72,1.71,1.71, 1.7,1.71,1.71,1.72,1.72,1.72,1.73,1.73,1.74,1.74, 1.75,1.74,1.74,1.74,1.73,1.73,1.72,1.72,1.72,1.71, 1.7,1.71,1.72,1.72,1.73,1.73,1.74,1.74,1.75,1.75, 1.75,1.75,1.76,1.76,1.75,1.75,1.76,1.75,1.75,1.76, 1.75,1.75,1.74,1.74,1.74,1.73,1.73,1.72,1.72,1.72, 1.71,1.71,1.71,1.7,1.7,1.7,1.7,1.71,1.7,1.7];
const d_u1a_ch5 = [1.65,1.64,1.65,1.64,1.65,1.65,1.64,1.65,1.64,1.65, 1.64,1.64,1.64,1.63,1.64,1.63,1.63,1.64,1.63,1.64, 1.64,1.64,1.65,1.64,1.65,1.65,1.65,1.65,1.66,1.65, 1.66,1.66,1.65,1.66,1.65,1.66,1.65,1.65,1.65,1.65, 1.65,1.65,1.64,1.65,1.64,1.64,1.64,1.64,1.63,1.64, 1.63,1.63,1.64,1.63,1.63,1.63,1.62,1.63,1.62,1.62, 1.62,1.62,1.62,1.61,1.62,1.61,1.61,1.61,1.61,1.61, 1.61,1.6,1.61,1.6,1.61,1.6,1.6,1.6,1.6,1.6];
const d_u1a_ch6 = [1.5,1.32,1.22,1.18,1.15,1.14,1.14,1.13,1.13,1.12, 1.12,1.12,1.1,1.1,1.1,1.1,1.1,1.09,1.09,1.09, 1.08,1.08,1.08,1.09,1.09,1.09,1.09,1.1,1.1,1.1, 1.11,1.11,1.1,1.1,1.09,1.09,1.08,1.08,1.08,1.08, 1.08,1.08,1.08,1.08,1.08,1.08,1.08,1.07,1.07,1.07, 1.07,1.07,1.08,1.08,1.08,1.07,1.07,1.07,1.07,1.07, 1.07,1.07,1.06,1.06,1.06,1.06,1.06,1.06,1.05,1.05, 1.05,1.05,1.05,1.04,1.04,1.03,1.03,1.03,1.02,1.02];
const d_u1a_ch7 = [1.9,1.88,1.88,1.87,1.86,1.86,1.85,1.85,1.85,1.85, 1.85,1.84,1.84,1.84,1.84,1.84,1.84,1.83,1.83,1.83, 1.83,1.83,1.83,1.82,1.82,1.82,1.82,1.82,1.81,1.81, 1.81,1.81,1.82,1.82,1.82,1.82,1.83,1.83,1.83,1.84, 1.84,1.84,1.84,1.84,1.84,1.84,1.85,1.85,1.85,1.85, 1.85,1.85,1.85,1.85,1.85,1.85,1.85,1.85,1.85,1.85, 1.85,1.85,1.85,1.85,1.84,1.84,1.84,1.84,1.84,1.84, 1.83,1.83,1.83,1.82,1.82,1.82,1.81,1.81,1.8,1.8];
const d_u1a_ch8 = [2.15,2.18,2.2,2.2,2.2,2.22,2.22,2.22,2.25,2.25, 2.25,2.26,2.28,2.28,2.3,2.28,2.3,2.3,2.32,2.3, 2.32,2.35,2.3,2.35,2.36,2.35,2.36,2.38,2.4,2.42, 2.42,2.42,2.38,2.4,2.4,2.38,2.38,2.4,2.42,2.4, 2.42,2.42,2.4,2.42,2.42,2.42,2.45,2.42,2.42,2.44, 2.45,2.44,2.45,2.42,2.44,2.45,2.44,2.44,2.42,2.44, 2.44,2.5,2.42,2.44,2.45,2.48,2.44,2.42,2.44,2.42, 2.42,2.42,2.42,2.42,2.42,2.44,2.42,2.42,2.4,2.42];

// ---------------- ASSEMBLY ----------------
const panelSeries = [
  [[a_hpv16_ch1,a_hpv16_ch2,a_hpv16_ch3,a_hpv16_ch4,a_hpv16_ch5,a_hpv16_ch6,a_hpv16_ch7,a_hpv16_ch8],
   [a_u1a_ch1,a_u1a_ch2,a_u1a_ch3,a_u1a_ch4,a_u1a_ch5,a_u1a_ch6,a_u1a_ch7,a_u1a_ch8]],
  [[b_hpv16_ch1,b_hpv16_ch2,b_hpv16_ch3,b_hpv16_ch4,b_hpv16_ch5,b_hpv16_ch6,b_hpv16_ch7,b_hpv16_ch8],
   [b_u1a_ch1,b_u1a_ch2,b_u1a_ch3,b_u1a_ch4,b_u1a_ch5,b_u1a_ch6,b_u1a_ch7,b_u1a_ch8]],
  [[c_hpv16_ch1,c_hpv16_ch2,c_hpv16_ch3,c_hpv16_ch4,c_hpv16_ch5,c_hpv16_ch6,c_hpv16_ch7,c_hpv16_ch8],
   [c_u1a_ch1,c_u1a_ch2,c_u1a_ch3,c_u1a_ch4,c_u1a_ch5,c_u1a_ch6,c_u1a_ch7,c_u1a_ch8]],
  [[d_hpv16_ch1,d_hpv16_ch2,d_hpv16_ch3,d_hpv16_ch4,d_hpv16_ch5,d_hpv16_ch6,d_hpv16_ch7,d_hpv16_ch8],
   [d_u1a_ch1,d_u1a_ch2,d_u1a_ch3,d_u1a_ch4,d_u1a_ch5,d_u1a_ch6,d_u1a_ch7,d_u1a_ch8]]
];

// ---------------- STYLE / LAYOUT ----------------
const groupColors = ["#188818", "#f21414"];
const markerTypes = ["square","diamond","triangle","x","star","dash","bar","circle"];
const serif = '"Liberation Serif","Times New Roman",serif';
const sans = '"Liberation Sans",Arial,sans-serif';
const plotLeft = 82, plotRight = 566;
const layout = [
  {top:30,   bottom:365,  timeY:414,  labelY:459,  legendTop:null},
  {top:505,  bottom:838,  timeY:887,  labelY:934,  legendTop:null},
  {top:979,  bottom:1313, timeY:1362, labelY:1619, legendTop:1401},
  {top:1665, bottom:1999, timeY:2048, labelY:2304, legendTop:2087}
];

function markerPath(type, s) {
  switch (type) {
    case "square":   return `M${-s},${-s}H${s}V${s}H${-s}Z`;
    case "diamond":  return `M0,${-s*1.3}L${s*1.15},0L0,${s*1.3}L${-s*1.15},0Z`;
    case "triangle": return `M0,${-s*1.25}L${s*1.2},${s*0.85}L${-s*1.2},${s*0.85}Z`;
    case "x":        return `M${-s},${-s}L${s},${s}M${-s},${s}L${s},${-s}`;
    case "star":     return `M${-s},${-s}L${s},${s}M${-s},${s}L${s},${-s}M0,${-s*1.2}V${s*1.2}`;
    case "dash":     return `M${-s*0.6},${-s*0.35}H${s*0.6}V${s*0.35}H${-s*0.6}Z`;
    case "bar":      return `M${-s},${-s*0.45}H${s}V${s*0.45}H${-s}Z`;
    case "circle":   return `M${s},0A${s},${s} 0 1,1 ${-s},0A${s},${s} 0 1,1 ${s},0Z`;
  }
}
function styleMarker(sel, type, color, sw) {
  if (type === "x" || type === "star") sel.attr("fill","none").attr("stroke",color).attr("stroke-width",sw);
  else if (type === "circle") sel.attr("fill","#fff").attr("stroke",color).attr("stroke-width",sw);
  else sel.attr("fill",color).attr("stroke","none");
}
function serifText(sel, size) {
  sel.style("font-family", serif).style("font-size", size + "px").attr("fill","#151515");
}

const svg = d3.select("#chart");
svg.append("rect").attr("width",600).attr("height",2320).attr("fill","#fff");

const x = d3.scaleLinear().domain([0,160]).range([plotLeft, plotRight]);

layout.forEach((L, pi) => {
  const y = d3.scaleLinear().domain([0,12]).range([L.bottom, L.top]);
  const g = svg.append("g");

  // dotted gridlines
  g.selectAll("line.grid").data(gridValues).join("line")
    .attr("x1", plotLeft + 12).attr("x2", plotRight - 4)
    .attr("y1", d => y(d)).attr("y2", d => y(d))
    .attr("stroke","#444").attr("stroke-width",1.4).attr("stroke-dasharray","1.4,10.6");

  // series
  const line = d3.line().x(d => x(d[0])).y(d => y(d[1]));
  panelSeries[pi].forEach((group, gi) => {
    const color = groupColors[gi];
    group.forEach((vals, ci) => {
      const pts = timeMin.map((t, i) => [t, vals[i]]);
      const sg = g.append("g");
      sg.append("path").datum(pts).attr("d", line).attr("fill","none")
        .attr("stroke", color).attr("stroke-width", 1.3);
      const type = markerTypes[ci];
      const s = type === "circle" ? 2.5 : (type === "bar" ? 2.6 : (type === "dash" ? 2.4 : 2.2));
      const m = sg.selectAll("path.m").data(pts).join("path")
        .attr("transform", d => `translate(${x(d[0])},${y(d[1])})`)
        .attr("d", markerPath(type, s));
      styleMarker(m, type, color, 1.0);
    });
  });

  // frame
  g.append("rect").attr("x",plotLeft).attr("y",L.top)
    .attr("width",plotRight-plotLeft).attr("height",L.bottom-L.top)
    .attr("fill","none").attr("stroke","#000").attr("stroke-width",1.5);

  // axes
  const xa = g.append("g").attr("transform",`translate(0,${L.bottom})`)
    .call(d3.axisBottom(x).tickValues(xTickValues).tickSize(3).tickPadding(9));
  xa.select(".domain").remove();
  xa.selectAll(".tick line").attr("y1",-3).attr("y2",3).attr("stroke-width",1.2);
  serifText(xa.selectAll("text"), 18);

  const ya = g.append("g").attr("transform",`translate(${plotLeft},0)`)
    .call(d3.axisLeft(y).tickValues(yTickValues).tickSize(4).tickPadding(8));
  ya.select(".domain").remove();
  ya.selectAll(".tick line").attr("stroke-width",1.2);
  serifText(ya.selectAll("text"), 18);

  // titles
  serifText(g.append("text").attr("x",(plotLeft+plotRight)/2).attr("y",L.timeY).attr("dy","0.35em")
    .attr("text-anchor","middle").text("Time (min)"), 19);
  serifText(g.append("text").attr("transform",`translate(31,${(L.top+L.bottom)/2}) rotate(-90)`)
    .attr("dy","0.35em").attr("text-anchor","middle").text("Signal of fluorescence (mV)"), 19);
  g.append("text").attr("x",(plotLeft+plotRight)/2).attr("y",L.labelY).attr("dy","0.35em")
    .attr("text-anchor","middle").style("font-family",sans).style("font-size","19px").attr("fill","#151515")
    .text(panelLabels[pi]);

  // legend
  if (L.legendTop !== null) {
    const cols = [{x1:83,x2:115,tx:128},{x1:304,x2:337,tx:350}];
    groupNames.forEach((gn, gi) => {
      const c = cols[gi], color = groupColors[gi];
      channelNames.forEach((cn, ci) => {
        const yy = L.legendTop + ci * 24.4;
        const lg = g.append("g");
        lg.append("line").attr("x1",c.x1).attr("x2",c.x2).attr("y1",yy).attr("y2",yy)
          .attr("stroke",color).attr("stroke-width",1.5);
        const type = markerTypes[ci];
        const s = type === "circle" ? 3.6 : (type === "bar" ? 4 : (type === "dash" ? 3.2 : 3.4));
        const mk = lg.append("path").attr("transform",`translate(${(c.x1+c.x2)/2},${yy})`)
          .attr("d", markerPath(type, s));
        styleMarker(mk, type, color, 1.4);
        serifText(lg.append("text").attr("x",c.tx).attr("y",yy).attr("dy","0.35em")
          .text(`${gn} ${cn}`), 19);
      });
    });
  }
});
</script>
</body></html>
